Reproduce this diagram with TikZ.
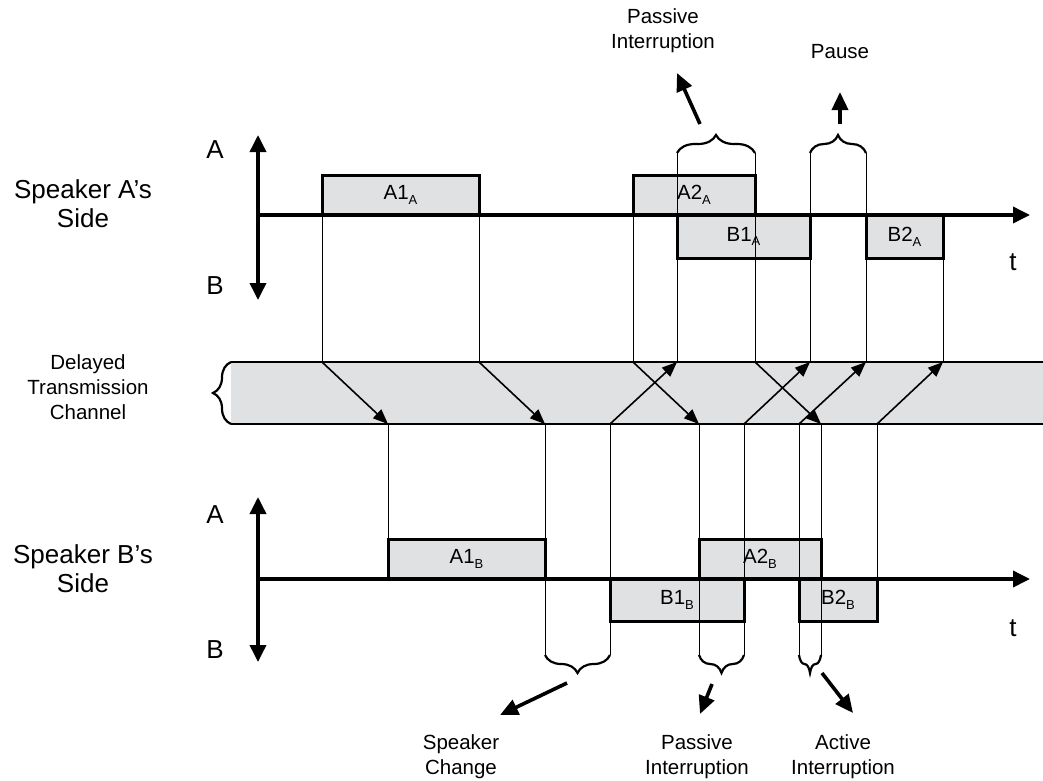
\documentclass[tikz,border=0pt]{standalone}
\usepackage{fontspec}
\setmainfont{Liberation Sans}
\usetikzlibrary{arrows.meta,decorations.pathreplacing}
\definecolor{chgray}{RGB}{224,225,227}
\newcommand{\lowsub}[1]{\raisebox{-0.45ex}{\fontsize{13}{13}\selectfont #1}}

\begin{document}
\begin{tikzpicture}[x=1pt, y=-1pt, >={Triangle[length=17pt,width=16pt]},
	every node/.style={font=\fontsize{20.5}{25}\selectfont, align=center},
	seg/.style={draw=black, line width=3pt, fill=chgray, inner sep=0pt, outer sep=0pt, minimum height=40pt},
	hop/.style={line width=1.6pt, -{Triangle[length=15pt,width=12pt]}},
	axis/.style={line width=3.6pt},
	note/.style={line width=3.6pt, -{Triangle[length=18pt,width=16pt]}},
	guide/.style={line width=0.8pt},
	brc/.style={decorate, decoration={brace, amplitude=18pt}, line width=2.2pt},
	big/.style={font=\fontsize{26}{29}\selectfont}]
	\useasboundingbox (0,0) rectangle (1043,780);
	\coordinate (braceA) at (0,153);
	\coordinate (braceB) at (0,655);

	% delayed channel
	\node[fill=chgray, minimum width=812pt, minimum height=62pt, inner sep=0pt, outer sep=0pt, anchor=north west] (chan) at (231,362) {};
	\draw[line width=1.2pt] (chan.north west) -- (chan.north east) (chan.south west) -- (chan.south east);
	\draw[brc] (chan.south west) -- (chan.north west);

	% speaker A's side
	\node[seg, minimum width=157pt, anchor=south west] (a1a) at (322,215) {A1\lowsub{A}};
	\node[seg, minimum width=122pt, anchor=south west] (a2a) at (633,215) {A2\lowsub{A}};
	\node[seg, minimum width=133pt, minimum height=43pt, anchor=north west] (b1a) at (677,215) {B1\lowsub{A}};
	\node[seg, minimum width=77pt, minimum height=43pt, anchor=north west] (b2a) at (866,215) {B2\lowsub{A}};

	% speaker B's side
	\node[seg, minimum width=157pt, anchor=south west] (a1b) at (388,579) {A1\lowsub{B}};
	\node[seg, minimum width=134pt, minimum height=42pt, anchor=north west] (b1b) at (610,579) {B1\lowsub{B}};
	\node[seg, minimum width=122pt, anchor=south west] (a2b) at (699,579) {A2\lowsub{B}};
	\node[seg, minimum width=78pt, minimum height=42pt, anchor=north west] (b2b) at (799,579) {B2\lowsub{B}};

	% guide lines
	\draw[guide] (a1a.south west) -- (a1a.south west |- chan.north);
	\draw[guide] (a1a.south east) -- (a1a.south east |- chan.north);
	\draw[guide] (a2a.south west) -- (a2a.south west |- chan.north);
	\draw[guide] (b1a.north west |- braceA) -- (b1a.north west |- chan.north);
	\draw[guide] (a2a.south east |- braceA) -- (a2a.south east |- chan.north);
	\draw[guide] (b1a.north east |- braceA) -- (b1a.north east |- chan.north);
	\draw[guide] (b2a.north west |- braceA) -- (b2a.north west |- chan.north);
	\draw[guide] (b2a.south east) -- (b2a.south east |- chan.north);
	\draw[guide] (a1b.north west) -- (a1b.north west |- chan.south);
	\draw[guide] (a1b.south east |- braceB) -- (a1b.south east |- chan.south);
	\draw[guide] (b1b.north west |- braceB) -- (b1b.north west |- chan.south);
	\draw[guide] (a2b.south west |- braceB) -- (a2b.south west |- chan.south);
	\draw[guide] (b1b.north east |- braceB) -- (b1b.north east |- chan.south);
	\draw[guide] (b2b.north west |- braceB) -- (b2b.north west |- chan.south);
	\draw[guide] (a2b.south east |- braceB) -- (a2b.south east |- chan.south);
	\draw[guide] (b2b.north east) -- (b2b.north east |- chan.south);

	% transmission
	\draw[hop] (a1a.south west |- chan.north) -- (a1b.south west |- chan.south);
	\draw[hop] (a1a.south east |- chan.north) -- (a1b.south east |- chan.south);
	\draw[hop] (b1b.north west |- chan.south) -- (b1a.north west |- chan.north);
	\draw[hop] (a2a.south west |- chan.north) -- (a2b.south west |- chan.south);
	\draw[hop] (b1b.north east |- chan.south) -- (b1a.north east |- chan.north);
	\draw[hop] (a2a.south east |- chan.north) -- (a2b.south east |- chan.south);
	\draw[hop] (b2b.north west |- chan.south) -- (b2a.north west |- chan.north);
	\draw[hop] (b2b.north east |- chan.south) -- (b2a.north east |- chan.north);

	% axes
	\draw[axis, <->] (258,135) -- (258,300);
	\draw[axis, ->] (256,215) -- (1030,215);
	\draw[axis, <->] (258,497) -- (258,662);
	\draw[axis, ->] (256,579) -- (1030,579);
	\node[big] (upA) at (215,150) {A};
	\node[big] (dnA) at (215,286) {B};
	\node[big] (tA) at (1013,262) {t};
	\node[big] (upB) at (215,515) {A};
	\node[big] (dnB) at (215,650) {B};
	\node[big] (tB) at (1013,628) {t};

	% braces
	\draw[brc] (b1a.north west |- braceA) -- (a2a.south east |- braceA);
	\draw[brc] (b1a.north east |- braceA) -- (b2a.north west |- braceA);
	\draw[brc, decoration={mirror}] (a1b.south east |- braceB) -- (b1b.north west |- braceB);
	\draw[brc, decoration={mirror}] (a2b.south west |- braceB) -- (b1b.north east |- braceB);
	\draw[brc, decoration={mirror}] (b2b.north west |- braceB) -- (a2b.south east |- braceB);

	% labels
	\node[big] (sideA) at (83,204) {Speaker A’s\\Side};
	\node (chanlbl) at (88,387) {Delayed\\Transmission\\Channel};
	\node[big] (sideB) at (83,569) {Speaker B’s\\Side};
	\node (pasA) at (663,31) {Passive\\Interruption};
	\node (pause) at (840,52) {Pause};
	\node (change) at (461,757) {Speaker\\Change};
	\node (pasB) at (697,757) {Passive\\Interruption};
	\node (active) at (843,757) {Active\\Interruption};

	\coordinate (pasAt) at (700,124); \coordinate (pasAh) at (677,73);
	\coordinate (pauset) at (840,124); \coordinate (pauseh) at (840,92);
	\coordinate (changet) at (567,683); \coordinate (changeh) at (500,715);
	\coordinate (pasBt) at (712,684); \coordinate (pasBh) at (700,714);
	\coordinate (activet) at (822,673); \coordinate (activeh) at (853,713);
	\draw[note] (pasAt) -- (pasAh);
	\draw[note] (pauset) -- (pauseh);
	\draw[note] (changet) -- (changeh);
	\draw[note] (pasBt) -- (pasBh);
	\draw[note] (activet) -- (activeh);
\end{tikzpicture}
\end{document}
